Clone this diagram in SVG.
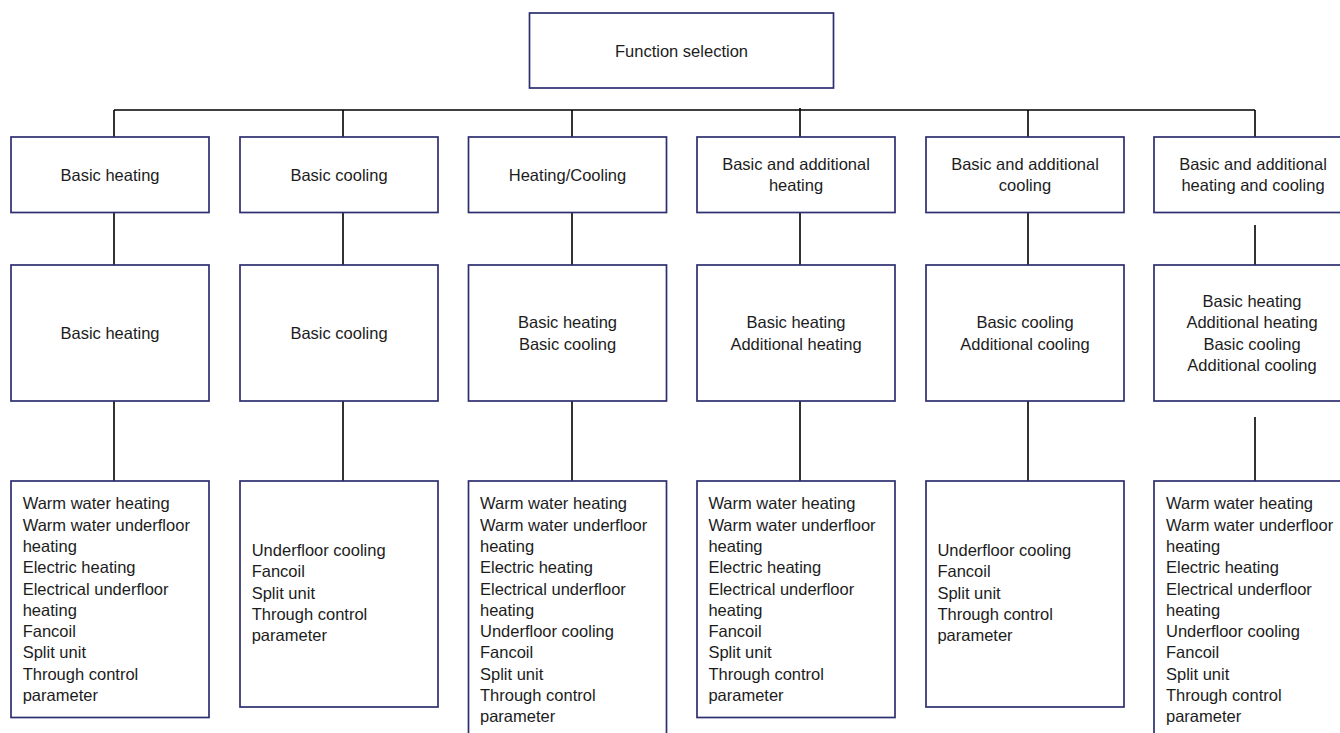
<svg xmlns="http://www.w3.org/2000/svg" width="1340" height="733" viewBox="0 0 1340 733">
<style>
.box{fill:#ffffff;stroke:#2d2e70;stroke-width:1.7}
.c{stroke:#000000;stroke-width:1.6;fill:none}
text{font-family:"Liberation Sans",Arial,sans-serif;font-size:16.5px;fill:#1c1c1c}
.m{text-anchor:middle}
</style>
<rect width="1340" height="733" fill="#ffffff"/>
<g id="connectors">
<path class="c" d="M114,110 H1255"/>
<path class="c" d="M114,110 V137 M114,212 V265 M114,401 V481"/>
<path class="c" d="M343,110 V137 M343,212 V265 M343,401 V481"/>
<path class="c" d="M572,110 V137 M572,212 V265 M572,401 V481"/>
<path class="c" d="M800,108 V137 M800,212 V265 M800,401 V481"/>
<path class="c" d="M1028,110 V137 M1028,212 V265 M1028,401 V481"/>
<path class="c" d="M1255,110 V137 M1255,225 V265 M1255,417 V481"/>
</g>
<g id="root">
<rect class="box" x="529.5" y="13" width="304" height="75"/>
<text class="m" x="681.5" y="56.5">Function selection</text>
</g>
<g id="t1"><rect class="box" x="11" y="137" width="198" height="75.5"/><text class="m" x="110" y="181">Basic heating</text></g>
<g id="t2"><rect class="box" x="240" y="137" width="198" height="75.5"/><text class="m" x="339" y="181">Basic cooling</text></g>
<g id="t3"><rect class="box" x="468.5" y="137" width="198" height="75.5"/><text class="m" x="567.5" y="181">Heating/Cooling</text></g>
<g id="t4"><rect class="box" x="697" y="137" width="198" height="75.5"/><text class="m" x="796" y="170">Basic and additional</text><text class="m" x="796" y="191.3">heating</text></g>
<g id="t5"><rect class="box" x="926" y="137" width="198" height="75.5"/><text class="m" x="1025" y="170">Basic and additional</text><text class="m" x="1025" y="191.3">cooling</text></g>
<g id="t6"><rect class="box" x="1154" y="137" width="198" height="75.5"/><text class="m" x="1253" y="170">Basic and additional</text><text class="m" x="1253" y="191.3">heating and cooling</text></g>
<g id="m1"><rect class="box" x="11" y="265" width="198" height="136"/><text class="m" x="110" y="339">Basic heating</text></g>
<g id="m2"><rect class="box" x="240" y="265" width="198" height="136"/><text class="m" x="339" y="339">Basic cooling</text></g>
<g id="m3"><rect class="box" x="468.5" y="265" width="198" height="136"/><text class="m" x="567.5" y="328.4">Basic heating</text><text class="m" x="567.5" y="349.7">Basic cooling</text></g>
<g id="m4"><rect class="box" x="697" y="265" width="198" height="136"/><text class="m" x="796" y="328.4">Basic heating</text><text class="m" x="796" y="349.7">Additional heating</text></g>
<g id="m5"><rect class="box" x="926" y="265" width="198" height="136"/><text class="m" x="1025" y="328.4">Basic cooling</text><text class="m" x="1025" y="349.7">Additional cooling</text></g>
<g id="m6"><rect class="box" x="1154" y="265" width="198" height="136"/><text class="m" x="1252" y="307">Basic heating</text><text class="m" x="1252" y="328.3">Additional heating</text><text class="m" x="1252" y="349.6">Basic cooling</text><text class="m" x="1252" y="370.9">Additional cooling</text></g>
<g id="b1"><rect class="box" x="11" y="481" width="198" height="236.5"/>
<text x="22.7" y="509.3">Warm water heating</text><text x="22.7" y="530.6">Warm water underfloor</text><text x="22.7" y="551.9">heating</text><text x="22.7" y="573.2">Electric heating</text><text x="22.7" y="594.5">Electrical underfloor</text><text x="22.7" y="615.8">heating</text><text x="22.7" y="637.1">Fancoil</text><text x="22.7" y="658.4">Split unit</text><text x="22.7" y="679.7">Through control</text><text x="22.7" y="701">parameter</text></g>
<g id="b2"><rect class="box" x="240" y="481" width="198" height="226"/>
<text x="251.7" y="556">Underfloor cooling</text><text x="251.7" y="577.3">Fancoil</text><text x="251.7" y="598.6">Split unit</text><text x="251.7" y="619.9">Through control</text><text x="251.7" y="641.2">parameter</text></g>
<g id="b3"><rect class="box" x="468.5" y="481" width="198" height="262"/>
<text x="480" y="509.3">Warm water heating</text><text x="480" y="530.6">Warm water underfloor</text><text x="480" y="551.9">heating</text><text x="480" y="573.2">Electric heating</text><text x="480" y="594.5">Electrical underfloor</text><text x="480" y="615.8">heating</text><text x="480" y="637.1">Underfloor cooling</text><text x="480" y="658.4">Fancoil</text><text x="480" y="679.7">Split unit</text><text x="480" y="701">Through control</text><text x="480" y="722.3">parameter</text></g>
<g id="b4"><rect class="box" x="697" y="481" width="198" height="236.5"/>
<text x="708.4" y="509.3">Warm water heating</text><text x="708.4" y="530.6">Warm water underfloor</text><text x="708.4" y="551.9">heating</text><text x="708.4" y="573.2">Electric heating</text><text x="708.4" y="594.5">Electrical underfloor</text><text x="708.4" y="615.8">heating</text><text x="708.4" y="637.1">Fancoil</text><text x="708.4" y="658.4">Split unit</text><text x="708.4" y="679.7">Through control</text><text x="708.4" y="701">parameter</text></g>
<g id="b5"><rect class="box" x="926" y="481" width="198" height="226"/>
<text x="937.4" y="556">Underfloor cooling</text><text x="937.4" y="577.3">Fancoil</text><text x="937.4" y="598.6">Split unit</text><text x="937.4" y="619.9">Through control</text><text x="937.4" y="641.2">parameter</text></g>
<g id="b6"><rect class="box" x="1154" y="481" width="198" height="262"/>
<text x="1166" y="509.3">Warm water heating</text><text x="1166" y="530.6">Warm water underfloor</text><text x="1166" y="551.9">heating</text><text x="1166" y="573.2">Electric heating</text><text x="1166" y="594.5">Electrical underfloor</text><text x="1166" y="615.8">heating</text><text x="1166" y="637.1">Underfloor cooling</text><text x="1166" y="658.4">Fancoil</text><text x="1166" y="679.7">Split unit</text><text x="1166" y="701">Through control</text><text x="1166" y="722.3">parameter</text></g>
</svg>
